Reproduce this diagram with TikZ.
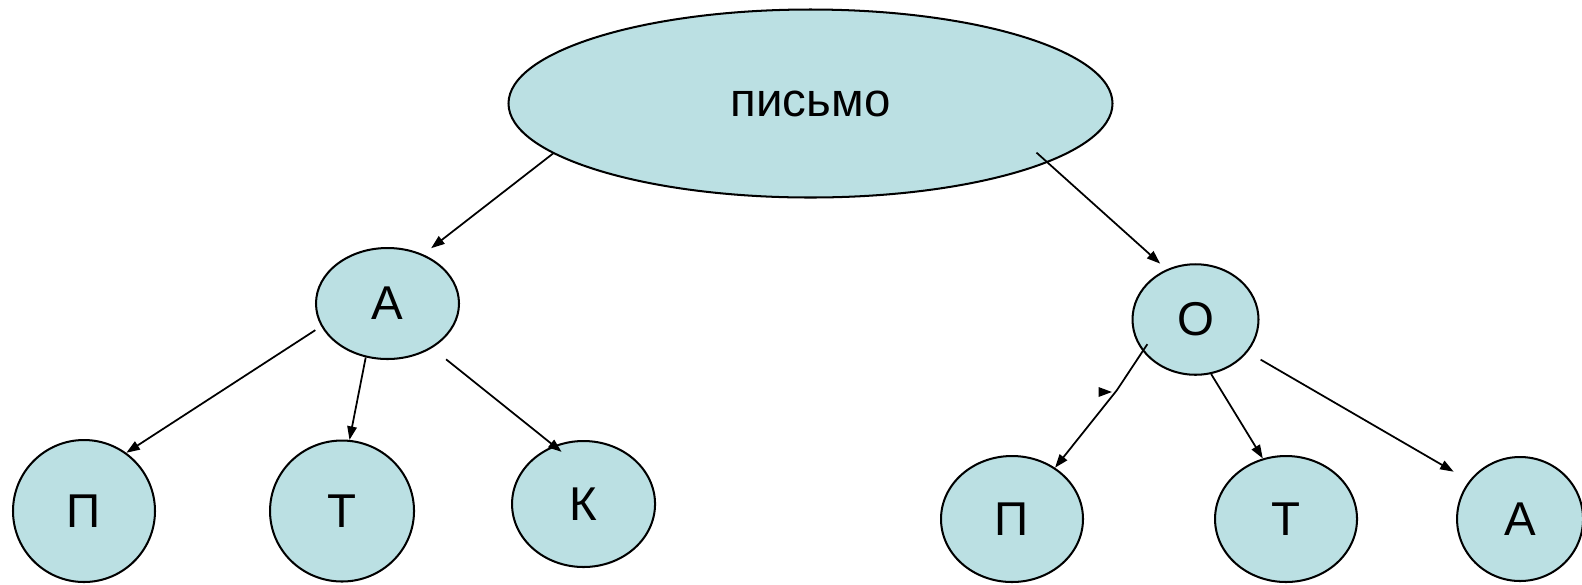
\documentclass[tikz,border=0pt]{standalone}
\usepackage{fontspec}
\setmainfont{Liberation Sans}
\usetikzlibrary{shapes.geometric,arrows.meta,positioning}
\definecolor{bluefill}{RGB}{187,224,227}

\begin{document}
\begin{tikzpicture}[
		bubble/.style={ellipse, draw, fill=bluefill, line width=1.15pt, inner sep=0pt, font=\fontsize{27}{30}\selectfont},
		arr/.style={-{Triangle[length=0.27cm,width=0.19cm]}, line width=1pt}]
				\useasboundingbox (0,0) rectangle (31.64,-11.68);
				\node[bubble, minimum width=12.08cm, minimum height=3.76cm] (pismo) at (16.21,-2.07) {письмо};
				\node[bubble, minimum width=2.86cm, minimum height=2.22cm] (A) at (7.75,-6.07) {А};
				\node[bubble, minimum width=2.52cm, minimum height=2.21cm] (O) at (23.91,-6.39) {О};
				
				\node[bubble, minimum width=2.84cm, minimum height=2.84cm] (p1) at (1.68,-10.22) {П};
				\node[bubble, minimum width=2.88cm, minimum height=2.82cm, right=2.26cm of p1] (t1) {Т};
				\node[bubble, minimum width=2.86cm, minimum height=2.52cm, right=1.92cm of t1, yshift=0.14cm] (k) {К};
				
				\node[bubble, minimum width=2.84cm, minimum height=2.52cm] (p2) at (20.24,-10.38) {П};
				\node[bubble, minimum width=2.84cm, minimum height=2.52cm, right=2.60cm of p2] (t2) {Т};
				\node[bubble, minimum width=2.52cm, minimum height=2.48cm, right=1.96cm of t2] (a2) {А};
				
				\coordinate (bend) at (22.34,-7.80);
				\coordinate (stub) at (21.98,-7.84);
				\coordinate (stubtip) at (22.24,-7.84);
				
				\draw[arr, shorten >=0.2cm] (pismo.191) -- (A.54);
				\draw[arr, shorten <=-0.3cm, shorten >=0.17cm] (pismo.346) -- (O.120);
				
				\draw[arr, shorten <=0.14cm] (A.199) -- (p1.54);
				\draw[arr] (A.248) -- (t1.84);
				\draw[arr, shorten <=0.36cm, shorten >=-0.2cm] (A.315) -- (k.117);
				
				\draw[arr, shorten <=-0.17cm] (O.211) -- (bend) -- (p2.50);
				\draw[arr] (stub) -- (stubtip);
				\draw[arr] (O.286) -- (t2.111);
				\draw[arr, shorten <=0.3cm, shorten >=0.36cm] (O.328) -- (a2.143);
			\end{tikzpicture}
\end{document}
